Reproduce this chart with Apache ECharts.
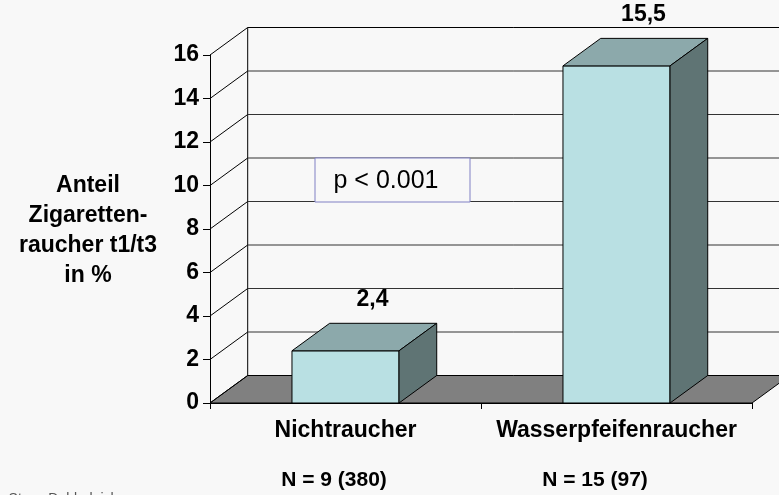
<!DOCTYPE html>
<html>
<head>
<meta charset="utf-8">
<script src="https://cdn.jsdelivr.net/npm/echarts@6/dist/echarts.min.js"></script>
<style>
  html, body { margin: 0; padding: 0; background: #f8f8f8; }
  #main { width: 779px; height: 495px; }
</style>
</head>
<body>
<div id="main"></div>
<script>
var categories = ['Nichtraucher', 'Wasserpfeifenraucher'];
var values = [2.4, 15.5];                 // Anteil Zigarettenraucher in %
var valueLabels = ['2,4', '15,5'];
var nLabels = ['N = 9 (380)', 'N = 15 (97)'];
var yTicks = [0, 2, 4, 6, 8, 10, 12, 14, 16];

var DX = 37.7, DY = -27.5;   // Tiefe des 3D-Effekts
var FONT = '"Liberation Sans", Arial, sans-serif';

var chart = echarts.init(document.getElementById('main'));

// Boden
function renderFloor(params, api) {
    var cs = params.coordSys;
    var y0 = api.coord([0, 0])[1];
    return {
        type: 'polygon',
        shape: { points: [[cs.x, y0], [cs.x + cs.width, y0], [cs.x + cs.width + DX, y0 + DY], [cs.x + DX, y0 + DY]] },
        style: { fill: '#808080', stroke: '#000', lineWidth: 1 }
    };
}

// Wandlinien
function renderWall(params, api) {
    var cs = params.coordSys;
    var v = api.value(1);
    var y = api.coord([0, v])[1];
    var children = [
        { type: 'line', shape: { x1: cs.x, y1: y, x2: cs.x + DX, y2: y + DY },
          style: { stroke: '#000', lineWidth: 1 } }
    ];
    if (v > 0) {
        children.push({ type: 'line', shape: { x1: cs.x + DX, y1: y + DY, x2: cs.x + cs.width + DX + 40, y2: y + DY },
          style: { stroke: v === 16 ? '#000' : '#333', lineWidth: 1 } });
    }
    if (params.dataIndex === 0) {
        var yTop = api.coord([0, yTicks[yTicks.length - 1]])[1];
        children.push({ type: 'line', shape: { x1: cs.x + DX, y1: y + DY, x2: cs.x + DX, y2: yTop + DY },
          style: { stroke: '#000', lineWidth: 1 } });
    }
    return { type: 'group', children: children };
}

// 3D-Balken
function renderBar(params, api) {
    var i = api.value(0);
    var base = api.coord([i, 0]);
    var top = api.coord([i, api.value(1)]);
    var w = api.size([1, 0])[0] * 0.395;
    var x1 = base[0] - w / 2, x2 = base[0] + w / 2;
    var yb = base[1], yt = top[1];
    var st = { stroke: '#000', lineWidth: 1 };
    return {
        type: 'group',
        children: [
            { type: 'polygon', shape: { points: [[x1, yb], [x2, yb], [x2, yt], [x1, yt]] },
              style: Object.assign({ fill: '#b9e0e3' }, st) },
            { type: 'polygon', shape: { points: [[x1, yt], [x2, yt], [x2 + DX, yt + DY], [x1 + DX, yt + DY]] },
              style: Object.assign({ fill: '#8ca9ab' }, st) },
            { type: 'polygon', shape: { points: [[x2, yb], [x2 + DX, yb + DY], [x2 + DX, yt + DY], [x2, yt]] },
              style: Object.assign({ fill: '#5f7474' }, st) },
            { type: 'text', x: base[0] + 27, y: yt - 51,
              style: { text: valueLabels[i], fill: '#000', font: 'bold 23px ' + FONT,
                       align: 'center', verticalAlign: 'middle' } }
        ]
    };
}

var option = {
    backgroundColor: '#f8f8f8',
    animation: false,
    grid: { left: 210, right: 27, top: 55, bottom: 92 },
    xAxis: {
        type: 'category',
        data: categories,
        axisLine: { lineStyle: { color: '#000', width: 1 } },
        axisTick: { show: true, length: 6, lineStyle: { color: '#000' } },
        axisLabel: { interval: 0, color: '#000', fontFamily: FONT, fontWeight: 'bold', fontSize: 23, margin: 16 },
        z: 5
    },
    yAxis: {
        type: 'value',
        min: 0, max: 16, interval: 2,
        axisLine: { show: true, lineStyle: { color: '#000', width: 1 } },
        axisTick: { show: true, length: 7, lineStyle: { color: '#000' } },
        axisLabel: { color: '#000', fontFamily: FONT, fontWeight: 'bold', fontSize: 23, margin: 11 },
        splitLine: { show: false },
        z: 5
    },
    graphic: [
        { type: 'text', x: 88, y: 171,
          style: { text: 'Anteil\nZigaretten-\nraucher t1/t3\nin %', fill: '#000',
                   font: 'bold 23px ' + FONT, align: 'center', lineHeight: 30 } },
        { type: 'rect', shape: { x: 315, y: 158, width: 155, height: 44 },
          style: { fill: '#f8f8f8', stroke: '#8080c4', lineWidth: 1 }, z: 10 },
        { type: 'text', x: 386, y: 181, z: 11,
          style: { text: 'p < 0.001', fill: '#000', font: '25px ' + FONT, align: 'center', verticalAlign: 'middle' } },
        { type: 'text', x: 334, y: 480,
          style: { text: nLabels[0], fill: '#000', font: 'bold 21px ' + FONT, align: 'center', verticalAlign: 'middle' } },
        { type: 'text', x: 595, y: 480,
          style: { text: nLabels[1], fill: '#000', font: 'bold 21px ' + FONT, align: 'center', verticalAlign: 'middle' } },
        { type: 'text', x: 0, y: 492,
          style: { text: '- Steve Dobbeleich', fill: '#555', font: '14px ' + FONT } }
    ],
    series: [
        { type: 'custom', renderItem: renderFloor, data: [[0, 0]], z: 1, silent: true },
        { type: 'custom', renderItem: renderWall, data: yTicks.map(function (v) { return [0, v]; }), z: 2, silent: true },
        { type: 'custom', renderItem: renderBar, data: values.map(function (v, i) { return [i, v]; }), z: 3 }
    ]
};

chart.setOption(option);
</script>
</body>
</html>
